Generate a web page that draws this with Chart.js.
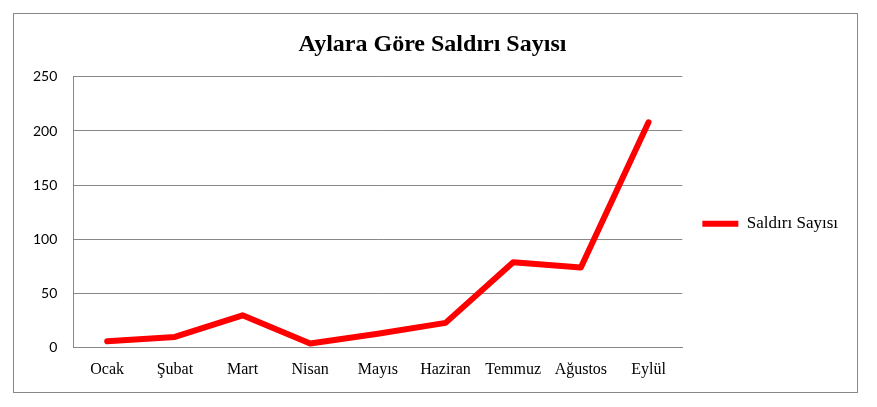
<!DOCTYPE html>
<html>
<head>
<meta charset="utf-8">
<script src="https://cdn.jsdelivr.net/npm/chart.js@4.4.1/dist/chart.umd.min.js"></script>
<style>
    body { margin: 0; background: #fff; }
    .frame {
        position: absolute; left: 13px; top: 13px;
        width: 843px; height: 378px;
        border: 1px solid #888;
    }
</style>
</head>
<body>
<div class="frame"><canvas id="attackChart" width="843" height="378"></canvas></div>
<script>
const months = ["Ocak", "Şubat", "Mart", "Nisan", "Mayıs", "Haziran", "Temmuz", "Ağustos", "Eylül"];
const attackCounts = [6, 10, 30, 4, 13, 23, 79, 74, 208];
const yTicks = [0, 50, 100, 150, 200, 250];

const serif = "'Liberation Serif', 'Times New Roman', serif";
const sans = "Lato, 'Liberation Sans', sans-serif";

document.addEventListener("DOMContentLoaded", () => {
    const ctx = document.getElementById("attackChart").getContext("2d");
    new Chart(ctx, {
        type: "line",
        data: {
            labels: months,
            datasets: [{
                label: "Saldırı Sayısı",
                data: attackCounts,
                borderColor: "#ff0000",
                backgroundColor: "#ff0000",
                borderWidth: 6,
                borderCapStyle: "round",
                borderJoinStyle: "round",
                pointRadius: 0,
                pointStyle: "line",
                tension: 0
            }]
        },
        options: {
            responsive: false,
            animation: false,
            layout: { padding: { left: 3, right: 9, top: 0, bottom: 1 } },
            plugins: {
                title: {
                    display: true,
                    text: "Aylara Göre Saldırı Sayısı",
                    color: "#000",
                    font: { family: serif, size: 24, weight: "bold" },
                    padding: { top: 16, bottom: 18 }
                },
                legend: {
                    position: "right",
                    // empty legend title only pushes the entry down a bit
                    title: { display: true, text: "", padding: { top: 28, bottom: 0 } },
                    labels: {
                        usePointStyle: true,
                        pointStyleWidth: 36,
                        color: "#000",
                        font: { family: serif, size: 17 },
                        padding: 20
                    }
                },
                tooltip: { enabled: false }
            },
            scales: {
                x: {
                    offset: true,
                    grid: { display: false, drawTicks: false },
                    border: { color: "#888" },
                    ticks: { color: "#000", font: { family: serif, size: 16 }, padding: 12, maxRotation: 0 }
                },
                y: {
                    min: 0,
                    max: 250,
                    afterBuildTicks: axis => { axis.ticks = yTicks.map(v => ({ value: v })); },
                    grid: { color: "#888", drawTicks: false },
                    border: { color: "#888" },
                    ticks: { color: "#000", font: { family: sans, size: 14 }, padding: 16 }
                }
            }
        }
    });
});
</script>
</body>
</html>
